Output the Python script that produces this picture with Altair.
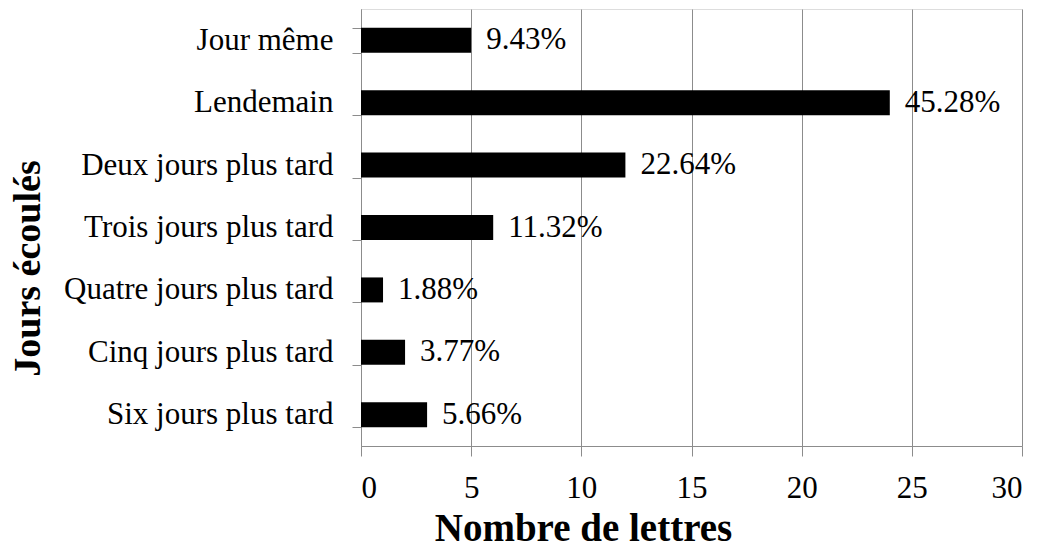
import altair as alt
import pandas as pd

categories = ["Jour même", "Lendemain", "Deux jours plus tard", "Trois jours plus tard",
              "Quatre jours plus tard", "Cinq jours plus tard", "Six jours plus tard"]
counts = [5, 24, 12, 6, 1, 2, 3]
pct_labels = ["9.43%", "45.28%", "22.64%", "11.32%", "1.88%", "3.77%", "5.66%"]

df = pd.DataFrame({"cat": categories, "n": counts, "lab": pct_labels})

FONT = "Liberation Serif"
GRID = "#8c8c8c"

y = alt.Y("cat:N", sort=categories,
          scale=alt.Scale(paddingInner=0.6, paddingOuter=0.3),
          axis=alt.Axis(title="Jours écoulés", tickBand="extent", tickSize=9,
                        tickColor=GRID, domainColor=GRID, labelPadding=19,
                        labelFont=FONT, labelFontSize=31, labelColor="black",
                        labelLimit=400, grid=False,
                        titleFont=FONT, titleFontSize=38, titleFontWeight="bold",
                        titleColor="black", titleAngle=270, titleAlign="center",
                        titleBaseline="middle", titleX=-333, titleY=259))
x = alt.X("n:Q", scale=alt.Scale(domain=[0, 30]),
          axis=alt.Axis(title="Nombre de lettres", values=[0, 5, 10, 15, 20, 25, 30],
                        tickSize=10, tickColor=GRID, domainColor=GRID, gridColor=GRID,
                        labelPadding=17, labelFont=FONT, labelFontSize=31,
                        labelColor="black", titleFont=FONT, titleFontSize=39,
                        titleFontWeight="bold", titleColor="black",
                        titleX=222, titleY=94, titleBaseline="alphabetic",
                        titleAlign="center"))

bars = alt.Chart(df).mark_bar(color="black").encode(x=x, y=y)
text = alt.Chart(df).mark_text(align="left", baseline="middle", dx=15, font=FONT,
                               fontSize=31, color="black").encode(
    x="n:Q", y=alt.Y("cat:N", sort=categories), text="lab:N")

chart = (bars + text).properties(
    width=661, height=437,
    autosize=alt.AutoSizeParams(type="none"),
    padding={"left": 353, "top": 1, "right": 12, "bottom": 100},
).configure_view(stroke=None).configure_text(font=FONT).configure(background="white")

chart.save("out.html", embed_options={"renderer": "svg", "actions": False})
